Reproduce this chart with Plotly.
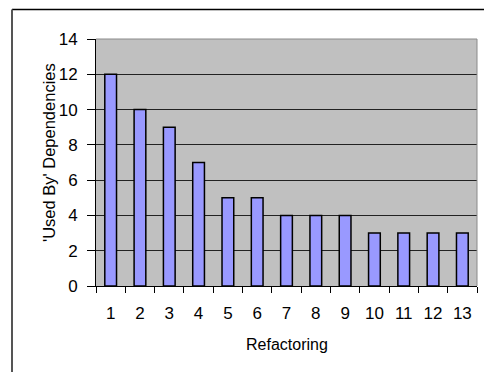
import plotly.graph_objects as go

categories = ["1", "2", "3", "4", "5", "6", "7", "8", "9", "10", "11", "12", "13"]
values = [12, 10, 9, 7, 5, 5, 4, 4, 4, 3, 3, 3, 3]
y_ticks = [0, 2, 4, 6, 8, 10, 12, 14]
x_title = "Refactoring"
y_title = "'Used By' Dependencies"

FONT = "Arial, Liberation Sans, sans-serif"

fig = go.Figure(
    go.Bar(
        x=categories,
        y=values,
        width=0.4,
        marker=dict(color="#9999FF", line=dict(color="#000000", width=1.5)),
    )
)

L, R, T, B = 96, 7, 39, 86
W, H = 484, 372
pw, ph = W - L - R, H - T - B

def px(x):
    return (x - L) / pw

def py(y):
    return (H - B - y) / ph

fig.update_layout(
    width=W,
    height=H,
    margin=dict(l=L, r=R, t=T, b=B, pad=0),
    paper_bgcolor="white",
    plot_bgcolor="#C0C0C0",
    showlegend=False,
    font=dict(family=FONT, size=16, color="black"),
    xaxis=dict(
        type="category",
        showline=True,
        linecolor="black",
        linewidth=1,
        ticks="outside",
        tickson="boundaries",
        ticklen=6,
        tickcolor="black",
        showgrid=False,
        ticklabelstandoff=12,
        tickfont=dict(size=17),
    ),
    yaxis=dict(
        range=[0, 14],
        tickvals=y_ticks,
        showline=True,
        linecolor="black",
        linewidth=1,
        ticks="outside",
        ticklen=8,
        tickcolor="black",
        showgrid=True,
        gridcolor="#222222",
        gridwidth=1,
        zeroline=False,
        ticklabelstandoff=6,
        tickfont=dict(size=17),
    ),
    annotations=[
        dict(text=x_title, xref="paper", yref="paper", x=px(286.5), y=py(344),
             xanchor="center", yanchor="middle", showarrow=False, font=dict(size=16)),
        dict(text=y_title, xref="paper", yref="paper", x=px(49), y=py(153),
             xanchor="center", yanchor="middle", showarrow=False, textangle=-90,
             font=dict(size=16.5)),
    ],
    shapes=[
        dict(type="line", xref="paper", yref="paper", x0=0, x1=1, y0=1, y1=1,
             line=dict(color="#8a8a8a", width=1), layer="above"),
        dict(type="line", xref="paper", yref="paper", x0=1, x1=1, y0=0, y1=1,
             line=dict(color="#8a8a8a", width=1), layer="above"),
        dict(type="line", xref="paper", yref="paper", x0=px(12), x1=px(484), y0=py(9.5), y1=py(9.5),
             line=dict(color="black", width=1.5)),
        dict(type="line", xref="paper", yref="paper", x0=px(12), x1=px(12), y0=py(9.5), y1=py(372),
             line=dict(color="#555555", width=2)),
    ],
)

fig.write_html(
    "out.html",
    config={"displayModeBar": False},
    post_script="document.body.style.margin='0';document.body.style.overflow='hidden';",
)
